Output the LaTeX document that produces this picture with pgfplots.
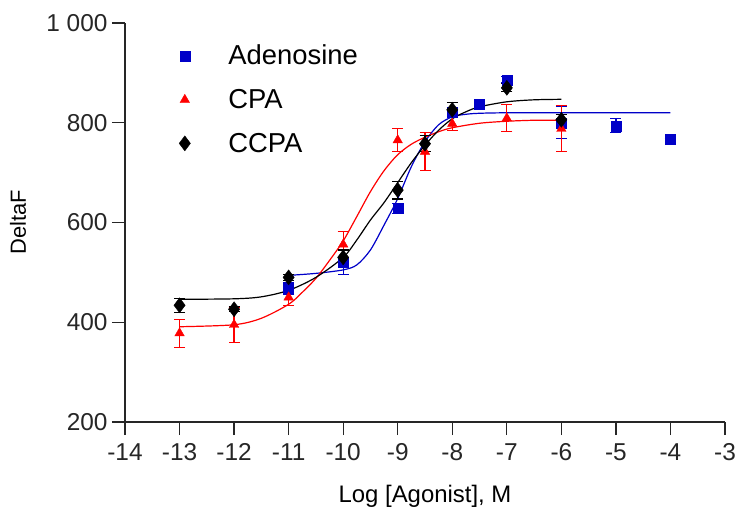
\documentclass[border=0pt]{standalone}
\usepackage{pgfplots}
\pgfplotsset{compat=1.18}
\usepackage{pgfplotstable}
\usepackage{fontspec}
\setmainfont{Liberation Sans}
\definecolor{adblue}{RGB}{0,0,200}
\definecolor{cpared}{RGB}{255,0,0}

\pgfplotstableread{
x y e
-11 468 12
-10 520 25
-9 628 10
-8 822 8
-7.5 838 0
-7 886 6
-6 800 32
-5 794 14
-4 768 0
}\adenosine

\pgfplotstableread{
x y e
-13 378 28
-12 395 35
-11 450 17
-10 556 26
-9 765 23
-8.5 742 38
-8 798 14
-7 809 27
-6 788 46
}\cpa

\pgfplotstableread{
x y e
-13 434 14
-12 426 5
-11 490 6
-10 530 15
-9 665 18
-8.5 758 16
-8 826 14
-7 870 8
-6 806 10
}\ccpa

\pgfplotstableread{
x y
-11 494
-10.5 498
-10 505
-9.75 515
-9.5 545
-9.25 595
-9 648
-8.75 712
-8.5 762
-8.25 796
-8 812
-7.75 817
-7.5 819
-7 820
-6 820
-5 820
-4 820
}\adfit

\pgfplotstableread{
x y
-13 391
-12 395
-11.5 408
-11 436
-10.75 460
-10.5 488
-10.25 524
-10 563
-9.75 612
-9.5 662
-9.25 704
-9 736
-8.75 757
-8.5 771
-8.25 782
-8 790
-7.5 799
-7 803
-6.5 805
-6 805
}\cpafit

\pgfplotstableread{
x y
-13 446
-12 447
-11.5 451
-11 464
-10.5 490
-10 530
-9.75 565
-9.5 605
-9.25 640
-9 680
-8.75 720
-8.5 755
-8.25 785
-8 808
-7.75 822
-7.5 832
-7 842
-6.5 846
-6 847
}\ccpafit

\begin{document}
\begin{tikzpicture}
\path[use as bounding box] (-125bp,-86bp) rectangle (614bp,422bp);
\begin{axis}[
  at={(0,0)}, anchor=south west,
  width=600bp, height=399bp, scale only axis,
  xmin=-14, xmax=-3, ymin=200, ymax=1000,
  axis lines=left,
  axis line style={-, line width=1.3bp, black!85},
  tick style={line width=1.3bp, black!85},
  tick align=outside,
  major tick length=13bp,
  xtick={-14,-13,...,-3},
  xticklabels={-14,-13,-12,-11,-10,-9,-8,-7,-6,-5,-4,-3},
  ytick={200,400,600,800,1000},
  yticklabels={200,400,600,800,1 000},
  ticklabel style={font=\fontsize{24.5}{28}\selectfont, text=black!85},
  x tick label style={yshift=-5bp},
  y tick label style={xshift=-1bp},
  clip=false,
  every axis x label/.style={at={(axis description cs:0.5,0)}, yshift=-74bp, anchor=center, font=\fontsize{24}{28}\selectfont},
  every axis y label/.style={at={(axis description cs:0,0.5)}, xshift=-107bp, rotate=90, anchor=center, font=\fontsize{22}{26}\selectfont},
  xlabel={Log [Agonist], M},
  ylabel={DeltaF},
  legend style={draw=none, fill=none, at={(axis description cs:0.085,0.955)}, anchor=north west,
    font=\fontsize{27.5}{31}\selectfont, row sep=19bp,
    /tikz/every odd column/.append style={column sep=36bp}},
  legend cell align=left,
  legend image code/.code={\draw[#1] plot coordinates {(0bp,0bp)};},
]
% fitted curves
\addplot[adblue, line width=1.2bp, smooth, forget plot] table[x=x,y=y] {\adfit};
\addplot[cpared, line width=1.2bp, smooth, forget plot] table[x=x,y=y] {\cpafit};
\addplot[black, line width=1.2bp, smooth, forget plot] table[x=x,y=y] {\ccpafit};
% data
\addplot[adblue, only marks, mark=square*, mark size=5bp, forget plot,
  error bars/.cd, y dir=both, y explicit,
  error bar style={line width=1.2bp},
  error mark options={rotate=90, mark size=5.5bp, line width=1.2bp}]
  table[x=x,y=y,y error=e] {\adenosine};
\addplot[cpared, only marks, mark=triangle*, mark size=5.5bp, forget plot,
  error bars/.cd, y dir=both, y explicit,
  error bar style={line width=1.2bp},
  error mark options={rotate=90, mark size=5.5bp, line width=1.2bp}]
  table[x=x,y=y,y error=e] {\cpa};
\addplot[black, only marks, mark=diamond*, mark size=7.5bp, forget plot,
  error bars/.cd, y dir=both, y explicit,
  error bar style={line width=1.2bp},
  error mark options={rotate=90, mark size=5.5bp, line width=1.2bp}]
  table[x=x,y=y,y error=e] {\ccpa};
% legend
\addlegendimage{only marks, adblue, mark=square*, mark size=5bp}
\addlegendentry{Adenosine}
\addlegendimage{only marks, cpared, mark=triangle*, mark size=5.5bp}
\addlegendentry{CPA}
\addlegendimage{only marks, black, mark=diamond*, mark size=7.5bp}
\addlegendentry{CCPA}
\end{axis}
\end{tikzpicture}
\end{document}
